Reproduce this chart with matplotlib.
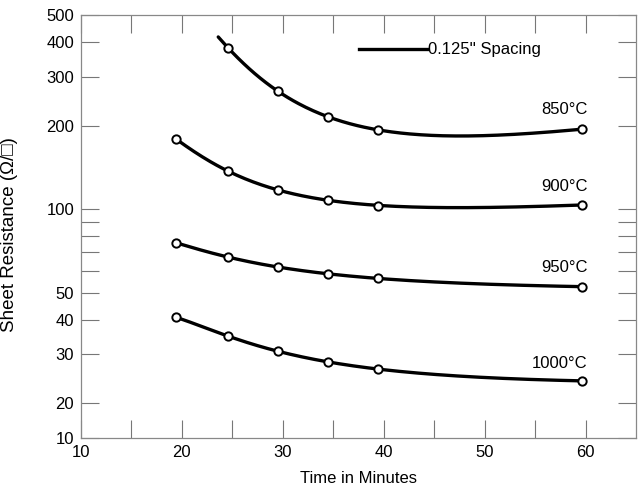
import numpy as np
import matplotlib
matplotlib.use('Agg')
import matplotlib.pyplot as plt

plt.rcParams['font.family'] = ['Liberation Sans', 'DejaVu Sans']

# Data (time in minutes, sheet resistance in ohm/sq)
t_850 = [24.6, 29.5, 34.5, 39.4, 59.6]
r_850 = [380, 266, 215, 193, 194]
t_900 = [19.4, 24.6, 29.5, 34.5, 39.4, 59.6]
r_900 = [179, 137, 117, 108, 103, 103.5]
t_950 = [19.4, 24.6, 29.5, 34.5, 39.4, 59.6]
r_950 = [75.7, 67.1, 62.1, 58.3, 56.4, 52.6]
t_1000 = [19.4, 24.6, 29.5, 34.5, 39.4, 59.6]
r_1000 = [40.8, 34.8, 30.9, 28.2, 26.5, 24.1]

labels = ['850°C', '900°C', '950°C', '1000°C']
label_y = [229, 121, 61.4, 27.9]

# 850 curve starts a bit before its first marker
curve_start_850 = 23.6

# y axis: bottom of the axis is labelled "10" in the original
y_floor = 15
ytick_vals = [y_floor, 20, 30, 40, 50, 60, 70, 80, 90, 100, 200, 300, 400, 500]
ytick_text = ['10', '20', '30', '40', '50', '', '', '', '', '100', '200', '300', '400', '500']
xtick_vals = [10, 15, 20, 25, 30, 35, 40, 45, 50, 55, 60]
xtick_text = ['10', '', '20', '', '30', '', '40', '', '50', '', '60']

FS = 12

fig = plt.figure(figsize=(6.38, 4.92), dpi=100)
ax = fig.add_axes([81/638, 1 - 438/492, (636-81)/638, (438-15)/492])

series = [(t_850, r_850, curve_start_850),
          (t_900, r_900, None),
          (t_950, r_950, None),
          (t_1000, r_1000, None)]

for (t, r, start), lab, ly in zip(series, labels, label_y):
    t = np.array(t)
    # smooth curve: cubic in 1/t through the log values
    coef = np.polyfit(1.0 / t, np.log10(r), 3)
    x0 = start if start is not None else t[0]
    xs = np.linspace(x0, t[-1], 200)
    ax.plot(xs, 10 ** np.polyval(coef, 1.0 / xs), color='black', lw=2.4,
            solid_capstyle='round', zorder=2)
    ax.plot(t, r, 'o', ms=6, mfc='white', mec='black', mew=1.4, zorder=3)
    ax.text(60.2, ly, lab, ha='right', va='center', fontsize=FS)

ax.set_yscale('log')
ax.set_xlim(10, 65)
ax.set_ylim(y_floor, 500)

ax.set_yticks(ytick_vals)
ax.set_yticklabels(ytick_text)
ax.yaxis.set_minor_locator(matplotlib.ticker.NullLocator())
ax.set_xticks(xtick_vals)
ax.set_xticklabels(xtick_text)

ax.tick_params(axis='both', direction='in', length=13, width=0.8, color='#777777',
               labelsize=FS, top=True, right=True, pad=5)
for s in ax.spines.values():
    s.set_color('#888888')
    s.set_linewidth(0.9)

ax.set_xlabel('Time in Minutes', fontsize=FS, labelpad=8)
ax.set_ylabel('Sheet Resistance (Ω/□)', fontsize=13.5)
ax.yaxis.set_label_coords(-0.113, 0.482)

# legend-like key
ax.plot([37.5, 44.3], [377, 377], color='black', lw=2.4)
ax.text(44.4, 377, '0.125\'\' Spacing', ha='left', va='center', fontsize=FS)

fig.savefig('out.png', dpi=100)
